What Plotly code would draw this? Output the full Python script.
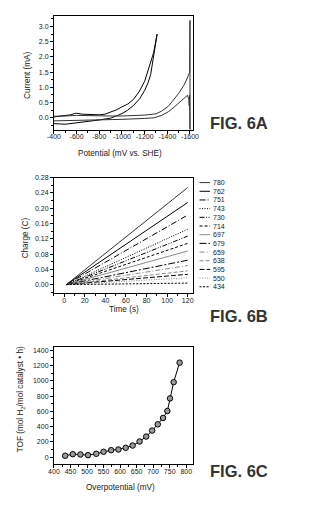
import plotly.graph_objects as go

W, H = 309, 512

# ---------------- FIG. 6A : cyclic voltammograms ----------------
cv1_potential = [-400, -450, -500, -550, -580, -600, -650, -700, -800, -850, -900, -950,
                 -1000, -1050, -1100, -1150, -1200, -1250, -1280, -1310,
                 -1280, -1253, -1230, -1200, -1155, -1100, -1050, -1000, -950, -900,
                 -800, -700, -600, -550, -500, -450, -400]
cv1_current = [0.03, 0.05, 0.08, 0.10, 0.14, 0.15, 0.12, 0.11, 0.10, 0.12, 0.18, 0.26,
               0.36, 0.45, 0.60, 0.85, 1.20, 1.75, 2.15, 2.75,
               2.05, 1.42, 1.15, 0.90, 0.62, 0.40, 0.25, 0.14, 0.06, -0.01,
               -0.07, -0.11, -0.16, -0.19, -0.21, -0.20, -0.19]

cv2_potential = [-400, -600, -800, -1000, -1200, -1282, -1350, -1409, -1450, -1507, -1550,
                 -1578, -1590, -1593, -1597, -1600, -1600, -1597, -1583, -1550, -1500,
                 -1479, -1409, -1350, -1300, -1200, -1100, -1000, -900, -800, -700, -600,
                 -500, -400]
cv2_current = [-0.10, -0.09, -0.07, -0.05, -0.02, 0.00, 0.08, 0.20, 0.32, 0.52, 0.66,
               0.74, 0.60, 0.40, 0.75, -0.38, 3.20, 1.50, 1.37, 1.09, 0.80,
               0.71, 0.38, 0.22, 0.13, 0.09, 0.07, 0.06, 0.06, 0.07, 0.08, 0.08,
               0.06, 0.05]

cv_xtick_vals = [-400, -600, -800, -1000, -1200, -1400, -1600]
cv_xtick_text = ["-400", "-600", "-800", "-1000", "-1200", "-1400", "-1600"]

# ---------------- FIG. 6B : charge vs time ----------------
overpotentials_b = ["780", "762", "751", "743", "730", "714", "697", "679", "659",
                    "638", "595", "550", "434"]
time_s = [2, 120]
charge_end = [0.254, 0.215, 0.182, 0.145, 0.127, 0.108, 0.088, 0.064, 0.050,
              0.036, 0.027, 0.018, 0.004]
line_colors = ["#333333", "#000000", "#000000", "#000000", "#000000", "#000000",
               "#8a8a8a", "#000000", "#8a8a8a", "#8a8a8a", "#000000", "#8a8a8a", "#000000"]
line_dashes = ["solid", "solid", "6px,2px,1px,2px", "1px,1.5px",
               "5px,1.5px,1px,1.5px,1px,1.5px", "3px,2px", "solid", "7px,2px,2px,2px",
               "5px,2px,1px,2px", "4px,2px", "5px,2px", "1px,1.5px", "2px,1.5px"]

# ---------------- FIG. 6C : TOF vs overpotential ----------------
overpotential_c = [434, 457, 480, 503, 528, 550, 573, 595, 617, 638, 659, 679, 697,
                   714, 730, 743, 751, 762, 780]
tof = [18, 39, 35, 26, 44, 70, 91, 100, 122, 152, 205, 270, 348, 430, 513, 605,
       770, 983, 1239]


def px(x):
    return x / W


def py(y):
    return 1 - y / H


FONT = "Liberation Sans, Arial"
TICKFONT = dict(family=FONT, size=7, color="#222")

fig = go.Figure()

fig.add_trace(go.Scatter(x=cv1_potential, y=cv1_current, mode="lines",
                         line=dict(color="#000", width=1), xaxis="x", yaxis="y",
                         showlegend=False))
fig.add_trace(go.Scatter(x=cv2_potential, y=cv2_current, mode="lines",
                         line=dict(color="#333", width=1), xaxis="x", yaxis="y",
                         showlegend=False))

for name, end, col, dash in zip(overpotentials_b, charge_end, line_colors, line_dashes):
    fig.add_trace(go.Scatter(x=time_s, y=[0, end], mode="lines", name=name,
                             line=dict(color=col, width=1, dash=dash),
                             xaxis="x2", yaxis="y2", showlegend=False))

fig.add_trace(go.Scatter(x=overpotential_c, y=tof, mode="lines+markers",
                         line=dict(color="#000", width=1),
                         marker=dict(symbol="circle", size=5.5, color="#9a9a9a",
                                     line=dict(color="#000", width=1)),
                         xaxis="x3", yaxis="y3", showlegend=False))

axis_common = dict(showline=True, linecolor="#000", linewidth=1, mirror=True,
                   ticks="outside", ticklen=3, tickwidth=1, tickcolor="#000",
                   showgrid=False, zeroline=False, tickfont=TICKFONT)
minor_common = dict(ticks="outside", ticklen=2, tickcolor="#000", tickwidth=1)

layout = dict(
    width=W, height=H, margin=dict(l=0, r=0, t=0, b=0),
    paper_bgcolor="white", plot_bgcolor="white", showlegend=False,
    xaxis=dict(axis_common, domain=[px(49), px(194)], anchor="y", tickangle=0,
               ticklabelstandoff=-3,
               range=[-400, -1625], tickvals=cv_xtick_vals, ticktext=cv_xtick_text,
               minor=dict(minor_common, dtick=100, tick0=-400)),
    yaxis=dict(axis_common, domain=[py(127), py(12.5)], anchor="x",
               range=[-0.4, 3.33], dtick=0.5, tick0=0, tickformat=".1f",
               minor=dict(minor_common, dtick=0.25, tick0=0)),
    xaxis2=dict(axis_common, domain=[px(49), px(194)], anchor="y2", tickangle=0,
                ticklabelstandoff=-3,
                range=[-10, 125], dtick=20, tick0=0,
                minor=dict(minor_common, dtick=10, tick0=0)),
    yaxis2=dict(axis_common, domain=[py(291.7), py(175)], anchor="x2",
                range=[-0.023, 0.28], dtick=0.04, tick0=0, tickformat=".2f",
                minor=dict(minor_common, dtick=0.02, tick0=0)),
    xaxis3=dict(axis_common, domain=[px(49), px(194)], anchor="y3", tickangle=0,
                ticklabelstandoff=-3,
                range=[400, 820], dtick=50, tick0=400,
                minor=dict(minor_common, dtick=25, tick0=400)),
    yaxis3=dict(axis_common, domain=[py(464), py(346)], anchor="x3",
                range=[-95, 1440], dtick=200, tick0=0,
                minor=dict(minor_common, dtick=100, tick0=0)),
)
fig.update_layout(**layout)

TITLEFONT = dict(family=FONT, size=8.2, color="#222")
ann = []
# axis titles
ann.append(dict(text="Current (mA)", x=px(21.5), y=py(72), textangle=-90))
ann.append(dict(text="Potential (mV vs. SHE)", x=px(118), y=py(150.5)))
ann.append(dict(text="Charge (C)", x=px(19), y=py(236), textangle=-90))
ann.append(dict(text="Time (s)", x=px(122), y=py(308)))
ann.append(dict(text="TOF (mol H<sub>2</sub>/mol catalyst • h)", x=px(15), y=py(398), textangle=-90))
ann.append(dict(text="Overpotential (mV)", x=px(118), y=py(487)))
for a in ann:
    a.update(xref="paper", yref="paper", showarrow=False, font=TITLEFONT,
             xanchor="center", yanchor="middle")

# figure labels
FIGFONT = dict(family="Liberation Sans, Arial", size=16.5, color="#333")
for label, yy in [("FIG. 6A", 120), ("FIG. 6B", 314), ("FIG. 6C", 471)]:
    ann.append(dict(text="<b>%s</b>" % label, x=px(210), y=py(yy), xref="paper", yref="paper",
                    showarrow=False, font=FIGFONT, xanchor="left", yanchor="middle"))

# legend for FIG. 6B
shapes = []
for i, (name, col, dash) in enumerate(zip(overpotentials_b, line_colors, line_dashes)):
    yy = 180 + i * 8.75
    shapes.append(dict(type="line", xref="paper", yref="paper",
                       x0=px(201), x1=px(212), y0=py(yy), y1=py(yy),
                       line=dict(color=col, width=1, dash=dash)))
    ann.append(dict(text=name, x=px(212.5), y=py(yy), xref="paper", yref="paper",
                    showarrow=False, font=dict(family=FONT, size=7, color="#222"),
                    xanchor="left", yanchor="middle"))

fig.update_layout(annotations=ann, shapes=shapes)
fig.write_html("out.html")
